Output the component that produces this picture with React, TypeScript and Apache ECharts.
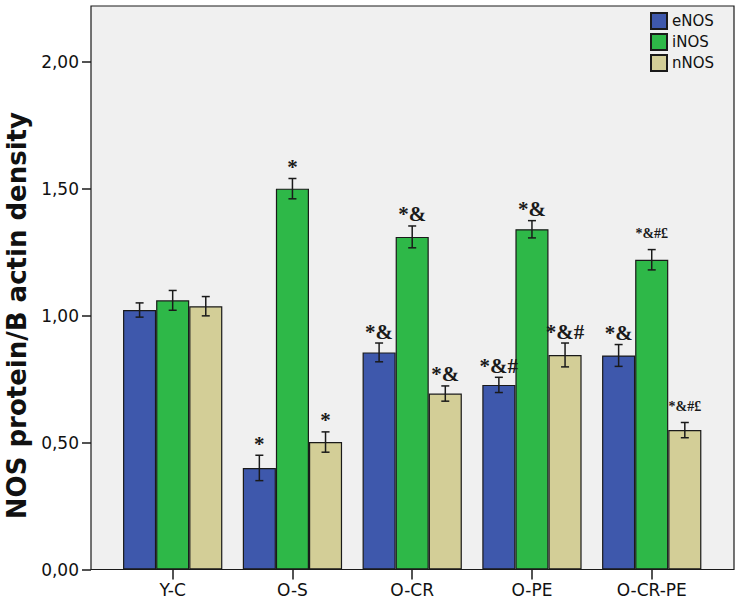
import React, { useEffect, useRef } from "react";
import * as echarts from "echarts";

const categories = ["Y-C", "O-S", "O-CR", "O-PE", "O-CR-PE"];
const seriesNames = ["eNOS", "iNOS", "nNOS"];
const eNOS = [1.022, 0.4, 0.855, 0.727, 0.843];
const iNOS = [1.06, 1.5, 1.31, 1.34, 1.22];
const nNOS = [1.037, 0.502, 0.693, 0.845, 0.549];
const eErr = [0.028, 0.05, 0.037, 0.03, 0.043];
const iErr = [0.039, 0.04, 0.043, 0.034, 0.04];
const nErr = [0.038, 0.04, 0.03, 0.047, 0.03];
const eAnn = ["", "*", "*&", "*&#", "*&"];
const iAnn = ["", "*", "*&", "*&", "*&#£"];
const nAnn = ["", "*", "*&", "*&#", "*&#£"];
const yTicks = [0, 0.5, 1, 1.5, 2];

const colors = ["#3E58AC", "#2EB848", "#D3CE97"];
const CAT_GAP = 0.171;

function errSeries(values: number[], errs: number[], anns: string[], idx: number) {
  return {
    type: "custom",
    xAxisIndex: 1,
    yAxisIndex: 1,
    z: 10,
    silent: true,
    clip: false,
    encode: { x: 0, y: 1 },
    data: values.map((v, i) => [i, v, errs[i]]),
    renderItem: (params: any, api: any) => {
      const i = api.value(0);
      const v = api.value(1);
      const e = api.value(2);
      const ann = anns[params.dataIndex];
      const band = api.size([1, 0])[0];
      const w = (band * (1 - CAT_GAP)) / 3;
      const cx = api.coord([i, v])[0] + (idx - 1) * w;
      const yTop = api.coord([i, v + e])[1];
      const yBot = api.coord([i, v - e])[1];
      const cap = 4;
      const ls = { stroke: "#1a1a1a", lineWidth: 1.5 };
      const small = ann.length >= 4;
      return {
        type: "group",
        children: [
          { type: "line", shape: { x1: cx, y1: yTop, x2: cx, y2: yBot }, style: ls },
          { type: "line", shape: { x1: cx - cap, y1: yTop, x2: cx + cap, y2: yTop }, style: ls },
          { type: "line", shape: { x1: cx - cap, y1: yBot, x2: cx + cap, y2: yBot }, style: ls },
          {
            type: "text",
            x: cx,
            y: yTop - (small ? 9 : 1),
            style: {
              text: ann,
              align: "center",
              verticalAlign: "bottom",
              fontFamily: "Liberation Serif",
              fontWeight: "bold",
              fontSize: small ? 14 : 21,
              fill: "#1a1a1a",
            },
          },
        ],
      };
    },
  };
}

export default function App() {
  const ref = useRef<HTMLDivElement>(null);
  useEffect(() => {
    if (!ref.current) return;
    const chart = echarts.init(ref.current, undefined, { renderer: "svg" });
    const barData = [eNOS, iNOS, nNOS];
    chart.setOption({
      animation: false,
      backgroundColor: "#ffffff",
      grid: [
        {
          left: 91,
          top: 6,
          right: 5,
          bottom: 32.5,
          show: true,
          outerBoundsMode: "none",
          containLabel: false,
          backgroundColor: "#f0f0f0",
          borderColor: "#1a1a1a",
          borderWidth: 1.2,
        },
        {
          left: 112.8,
          right: 27.4,
          top: 61.7,
          bottom: 32.5,
          outerBoundsMode: "none",
          containLabel: false,
        },
      ],
      legend: {
        data: seriesNames,
        orient: "vertical",
        left: 650,
        top: 12,
        padding: 0,
        itemWidth: 16,
        itemHeight: 16,
        itemGap: 3,
        icon: "rect",
        textStyle: { fontFamily: "DejaVu Sans", fontSize: 15, color: "#111" },
      },
      xAxis: [
        { gridIndex: 0, type: "value", show: false },
        {
          gridIndex: 1,
          type: "category",
          data: categories,
          axisLine: { show: false },
          axisTick: {
            show: true,
            alignWithLabel: true,
            length: 10,
            lineStyle: { color: "#1a1a1a", width: 1.5 },
          },
          axisLabel: {
            margin: 12,
            fontFamily: "DejaVu Sans",
            fontSize: 17,
            color: "#111",
            interval: 0,
          },
        },
      ],
      yAxis: [
        { gridIndex: 0, type: "value", show: false },
        {
          gridIndex: 1,
          type: "value",
          min: 0,
          max: 2,
          interval: 0.5,
          offset: 21.8,
          splitLine: { show: false },
          axisLine: { show: false },
          axisTick: { show: true, length: 9, lineStyle: { color: "#1a1a1a", width: 1.5 } },
          axisLabel: {
            margin: 12,
            fontFamily: "DejaVu Sans",
            fontSize: 17,
            color: "#111",
            formatter: (v: number) =>
              yTicks.includes(v) ? v.toFixed(2).replace(".", ",") : "",
          },
          name: "NOS protein/B actin density",
          nameLocation: "middle",
          nameGap: 50,
          nameTextStyle: {
            fontFamily: "DejaVu Sans",
            fontWeight: "bold",
            fontSize: 26,
            color: "#111",
          },
        },
      ],
      series: [
        ...seriesNames.map((name, k) => ({
          name,
          type: "bar",
          xAxisIndex: 1,
          yAxisIndex: 1,
          data: barData[k],
          barGap: "0%",
          barCategoryGap: CAT_GAP * 100 + "%",
          itemStyle: { color: colors[k], borderColor: "#1a1a1a", borderWidth: 1.2 },
        })),
        errSeries(eNOS, eErr, eAnn, 0),
        errSeries(iNOS, iErr, iAnn, 1),
        errSeries(nNOS, nErr, nAnn, 2),
      ],
    });
    return () => chart.dispose();
  }, []);
  return (
    <div
      ref={ref}
      style={{ position: "fixed", left: 0, top: 0, width: 739, height: 602 }}
    />
  );
}
